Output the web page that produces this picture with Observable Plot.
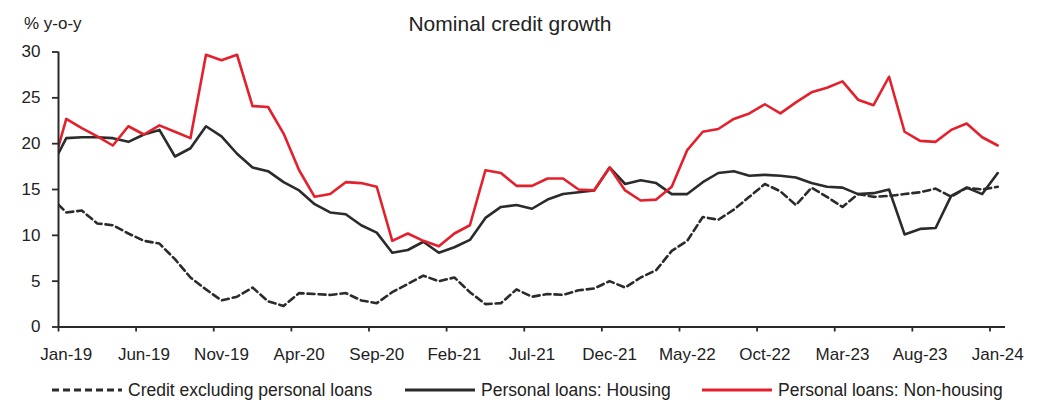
<!DOCTYPE html>
<html>
<head>
<meta charset="utf-8">
<script src="https://cdn.jsdelivr.net/npm/d3@7"></script>
<script src="https://cdn.jsdelivr.net/npm/@observablehq/plot@0.6"></script>
<style>
  body { margin: 0; background: #fff; font-family: "Liberation Sans", Arial, sans-serif; color: #222; }
  #wrap { position: relative; width: 1041px; height: 403px; overflow: hidden; background: #fff; }
  #unit { position: absolute; left: 24px; top: 15px; font-size: 17px; line-height: 1; white-space: nowrap; }
  #title { position: absolute; left: 0; width: 1020px; text-align: center; top: 13px; font-size: 21px; line-height: 1; white-space: nowrap; }
  #chart { position: absolute; left: 0; top: 40px; }
  #legend { position: absolute; left: 0; top: 380px; width: 1041px; height: 20px; font-size: 17.5px; line-height: 20px; }
  .item { position: absolute; top: 0; display: flex; align-items: center; white-space: nowrap; height: 20px; }
  .item svg { margin-right: 6px; }
</style>
</head>
<body>
<div id="wrap">
  <div id="unit">% y-o-y</div>
  <div id="title">Nominal credit growth</div>
  <div id="chart"></div>
  <div id="legend"></div>
</div>
<script>
// Months Dec-18 .. Jan-24 (Dec-18 lies just left of the axis and is clipped)
const monthIndex = d3.range(-1, 61);

const xTickLabels = ["Jan-19","Jun-19","Nov-19","Apr-20","Sep-20","Feb-21","Jul-21","Dec-21","May-22","Oct-22","Mar-23","Aug-23","Jan-24"];
const yTicks = [0, 5, 10, 15, 20, 25, 30];

const seriesNames = ["Credit excluding personal loans", "Personal loans: Housing", "Personal loans: Non-housing"];

const creditExPersonal = [14.2,
  12.5,12.7,11.3,11.1,10.2,9.4,9.1,7.4,5.4,4.1,2.9,3.3,
  4.3,2.8,2.3,3.7,3.6,3.5,3.7,2.9,2.6,3.8,4.7,5.6,
  5.0,5.4,3.8,2.5,2.6,4.1,3.3,3.6,3.5,4.0,4.2,5.0,
  4.3,5.4,6.2,8.3,9.4,12.0,11.7,12.8,14.2,15.6,14.8,13.3,
  15.2,14.2,13.1,14.5,14.2,14.3,14.5,14.7,15.1,14.2,15.2,15.0,
  15.3];

const housing = [17.3,
  20.6,20.7,20.7,20.6,20.2,21.0,21.5,18.6,19.5,21.9,20.8,18.9,
  17.4,17.0,15.8,14.9,13.4,12.5,12.3,11.1,10.3,8.1,8.4,9.3,
  8.1,8.7,9.5,11.9,13.1,13.3,12.9,13.9,14.5,14.7,14.9,17.4,
  15.6,16.0,15.7,14.5,14.5,15.8,16.8,17.0,16.5,16.6,16.5,16.3,
  15.7,15.3,15.2,14.5,14.6,15.0,10.1,10.7,10.8,14.3,15.2,14.5,
  16.8];

const nonHousing = [16.7,
  22.7,21.7,20.8,19.8,21.9,21.0,22.0,21.3,20.6,29.7,29.1,29.7,
  24.1,24.0,21.1,17.1,14.2,14.5,15.8,15.7,15.3,9.4,10.2,9.4,
  8.8,10.2,11.1,17.1,16.8,15.4,15.4,16.2,16.2,15.0,14.9,17.4,
  14.9,13.8,13.9,15.3,19.3,21.3,21.6,22.7,23.3,24.3,23.3,24.5,
  25.6,26.1,26.8,24.8,24.2,27.3,21.3,20.3,20.2,21.5,22.2,20.7,
  19.8];

const colors = { dark: "#2b2b2b", red: "#e3202b", axis: "#2a2a2a" };

// point for month k is centred in its month slot (k + 0.5)
const toRows = vals => vals.map((v, i) => ({ x: monthIndex[i] + 0.5, v }));
const rowsEx = toRows(creditExPersonal);
const rowsH = toRows(housing);
const rowsNH = toRows(nonHousing);

const tickPositions = d3.range(0, 61, 5);
const labelPositions = tickPositions.map(t => t + 0.5);

const chart = Plot.plot({
  width: 1041,
  height: 325,
  marginLeft: 58,
  marginRight: 36,
  marginTop: 11.5,
  marginBottom: 38.5,
  x: { type: "linear", domain: [0, 61], axis: null, label: null },
  y: { domain: [0, 30], axis: null, label: null },
  style: { fontFamily: "'Liberation Sans', Arial, sans-serif", fontSize: "17px", color: "#222", background: "#fff" },
  marks: [
    Plot.line(rowsEx, { x: "x", y: "v", stroke: colors.dark, strokeWidth: 2.6, strokeDasharray: "7,4", clip: true }),
    Plot.line(rowsH, { x: "x", y: "v", stroke: colors.dark, strokeWidth: 2.6, clip: true }),
    Plot.line(rowsNH, { x: "x", y: "v", stroke: colors.red, strokeWidth: 2.6, clip: true }),
    Plot.ruleY([0], { stroke: colors.axis, strokeWidth: 2 }),
    Plot.ruleX([0], { stroke: colors.axis, strokeWidth: 2 }),
    Plot.axisY({ ticks: yTicks, label: null, tickSize: 6, tickPadding: 12, stroke: colors.axis, strokeWidth: 1.8, fill: "#222", fontSize: 17, tickFormat: d => String(d) }),
    Plot.axisX({ ticks: tickPositions, label: null, tickSize: 5, stroke: colors.axis, strokeWidth: 1.8, tickFormat: () => "" }),
    Plot.axisX({ ticks: labelPositions, label: null, tickSize: 0, tickPadding: 21, fill: "#222", fontSize: 17,
      tickFormat: d => xTickLabels[Math.round((d - 0.5) / 5)] })
  ]
});
document.getElementById("chart").appendChild(chart);

// Legend
const legendItems = [
  { name: seriesNames[0], color: colors.dark, dash: "7,4", left: 52 },
  { name: seriesNames[1], color: colors.dark, dash: null, left: 405 },
  { name: seriesNames[2], color: colors.red, dash: null, left: 702 }
];
const legend = document.getElementById("legend");
for (const it of legendItems) {
  const div = document.createElement("div");
  div.className = "item";
  div.style.left = it.left + "px";
  div.innerHTML = `<svg width="70" height="6"><line x1="0" y1="3" x2="70" y2="3" stroke="${it.color}" stroke-width="3.2" ${it.dash ? `stroke-dasharray="${it.dash}"` : ""}/></svg><span>${it.name}</span>`;
  legend.appendChild(div);
}
</script>
</body>
</html>
